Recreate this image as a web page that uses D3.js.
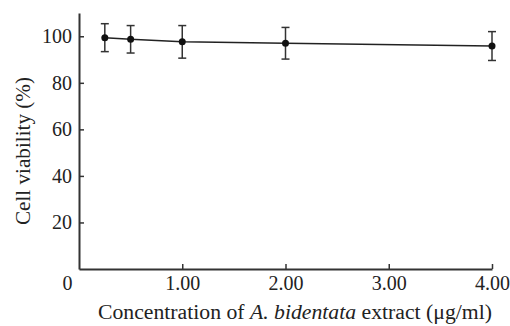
<!DOCTYPE html>
<html>
<head>
<meta charset="utf-8">
<script src="https://cdn.jsdelivr.net/npm/d3@7"></script>
<style>
  body { margin: 0; background: #fff; }
  text { font-family: "Liberation Serif", "Times New Roman", serif; fill: #222; }
</style>
</head>
<body>
<div id="chart"></div>
<script>
// concentrations (µg/ml) and viability (%) with SD
const concentrations = [0.25, 0.5, 1.0, 2.0, 4.0];
const viability = [99.4, 98.7, 97.6, 97.0, 95.8];
const sd = [6.0, 5.9, 7.0, 6.8, 6.2];
const xTicks = [0, 1, 2, 3, 4];
const yTicks = [20, 40, 60, 80, 100];

const width = 510, height = 326;
const margin = { top: 13, right: 18, bottom: 57, left: 79 };

const x = d3.scaleLinear().domain([0, 4]).range([margin.left, width - margin.right]);
const y = d3.scaleLinear().domain([0, 110]).range([height - margin.bottom, margin.top]);

const svg = d3.select('#chart').append('svg')
  .attr('width', width)
  .attr('height', height)
  .style('display', 'block');

const fontSize = 20;

// x axis
const xAxis = svg.append('g')
  .attr('transform', `translate(0,${y(0)})`)
  .call(d3.axisBottom(x)
    .tickValues(xTicks)
    .tickSizeInner(-5)
    .tickSizeOuter(0)
    .tickPadding(7)
    .tickFormat(d => d === 0 ? '0' : d3.format('.2f')(d)));
xAxis.select('.domain').attr('stroke', '#333').attr('stroke-width', 2);
xAxis.selectAll('.tick line').attr('stroke', '#333').attr('stroke-width', 1.5);
xAxis.selectAll('.tick text').style('font-size', fontSize + 'px').attr('fill', '#222');
xAxis.selectAll('.tick').filter(d => d === 0)
  .call(t => t.select('line').remove())
  .select('text').attr('dx', -12);

// y axis
const yAxis = svg.append('g')
  .attr('transform', `translate(${x(0)},0)`)
  .call(d3.axisLeft(y)
    .tickValues(yTicks)
    .tickSizeInner(-5)
    .tickSizeOuter(0)
    .tickPadding(7));
yAxis.select('.domain').attr('stroke', '#333').attr('stroke-width', 2);
yAxis.selectAll('.tick line').attr('stroke', '#333').attr('stroke-width', 1.5);
yAxis.selectAll('.tick text').style('font-size', fontSize + 'px').attr('fill', '#222');

// line
const data = concentrations.map((c, i) => ({ c, v: viability[i], sd: sd[i] }));
svg.append('path')
  .datum(data)
  .attr('fill', 'none')
  .attr('stroke', '#222')
  .attr('stroke-width', 1.5)
  .attr('d', d3.line().x(d => x(d.c)).y(d => y(d.v)));

// error bars
const eb = svg.append('g').attr('stroke', '#333').attr('stroke-width', 1.5);
eb.selectAll('line.v')
  .data(data)
  .join('line')
  .attr('class', 'v')
  .attr('x1', d => x(d.c)).attr('x2', d => x(d.c))
  .attr('y1', d => y(d.v + d.sd)).attr('y2', d => y(d.v - d.sd));
eb.selectAll('line.top')
  .data(data)
  .join('line')
  .attr('class', 'top')
  .attr('x1', d => x(d.c) - 4).attr('x2', d => x(d.c) + 4)
  .attr('y1', d => y(d.v + d.sd)).attr('y2', d => y(d.v + d.sd));
eb.selectAll('line.bot')
  .data(data)
  .join('line')
  .attr('class', 'bot')
  .attr('x1', d => x(d.c) - 4).attr('x2', d => x(d.c) + 4)
  .attr('y1', d => y(d.v - d.sd)).attr('y2', d => y(d.v - d.sd));

// markers
svg.append('g')
  .selectAll('circle')
  .data(data)
  .join('circle')
  .attr('cx', d => x(d.c))
  .attr('cy', d => y(d.v))
  .attr('r', 3.5)
  .attr('fill', '#111');

// axis titles
const xTitle = svg.append('text')
  .attr('x', 295)
  .attr('y', 319)
  .attr('text-anchor', 'middle')
  .attr('textLength', 394)
  .attr('lengthAdjust', 'spacingAndGlyphs')
  .style('font-size', fontSize + 'px');
xTitle.append('tspan').text('Concentration of ');
xTitle.append('tspan').style('font-style', 'italic').text('A. bidentata');
xTitle.append('tspan').text(' extract (μg/ml)');

svg.append('text')
  .attr('transform', 'translate(29.5,151) rotate(-90)')
  .attr('text-anchor', 'middle')
  .attr('textLength', 148)
  .attr('lengthAdjust', 'spacingAndGlyphs')
  .style('font-size', fontSize + 'px')
  .text('Cell viability (%)');
</script>
</body>
</html>
